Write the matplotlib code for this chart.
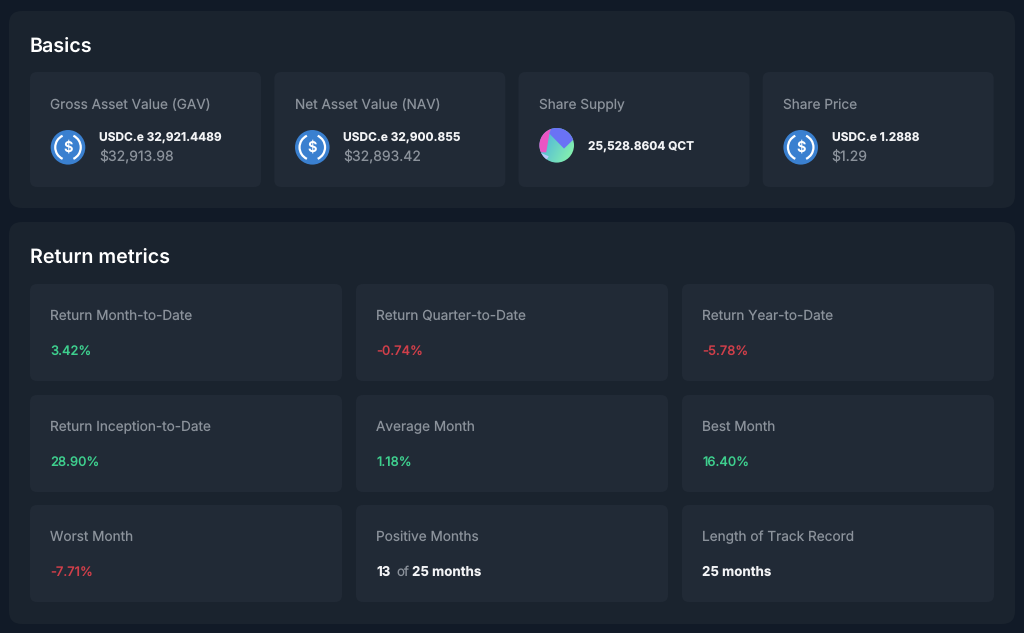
# plot.py - vault metrics dashboard
import numpy as np
import matplotlib
matplotlib.use('Agg')
import matplotlib.pyplot as plt
from matplotlib.patches import FancyBboxPatch, Circle, Arc, Polygon

plt.rcParams['font.family'] = ['Inter', 'DejaVu Sans']
plt.rcParams['text.hinting'] = 'no_hinting'
plt.rcParams['text.hinting_factor'] = 1

# data
basics_labels = ['Gross Asset Value (GAV)', 'Net Asset Value (NAV)', 'Share Supply', 'Share Price']
basics_values = ['USDC.e 32,921.4489', 'USDC.e 32,900.855', '25,528.8604 QCT', 'USDC.e 1.2888']
basics_usd = ['$32,913.98', '$32,893.42', '', '$1.29']

return_labels = ['Return Month-to-Date', 'Return Quarter-to-Date', 'Return Year-to-Date',
                 'Return Inception-to-Date', 'Average Month', 'Best Month',
                 'Worst Month', 'Positive Months', 'Length of Track Record']
return_values = ['3.42%', '-0.74%', '-5.78%', '28.90%', '1.18%', '16.40%', '-7.71%', '', '25 months']

BG = '#111a27'
PANEL = '#1a232e'
CARD = '#212a36'
GREY = '#8b929b'
WHITE = '#f2f3f5'
GREEN = '#3ecf8e'
RED = '#d03f4a'
BLUE = '#3a80d0'

fig = plt.figure(figsize=(10.24, 6.33), dpi=100, facecolor=BG)
ax = fig.add_axes([0, 0, 1, 1])
ax.set_xlim(0, 1024)
ax.set_ylim(633, 0)
ax.axis('off')


def box(x, y, w, h, color, r):
    ax.add_patch(FancyBboxPatch((x + r, y + r), w - 2 * r, h - 2 * r,
                                boxstyle='round,pad=%d,rounding_size=%d' % (r, r),
                                fc=color, ec='none'))


def label(x, y, s, color, size, weight='normal'):
    ax.text(x, y, s, color=color, fontsize=size, fontweight=weight, va='baseline')


def usdc_icon(cx, cy):
    ax.add_patch(Circle((cx, cy), 17.3, fc=BLUE, ec='none'))
    ax.add_patch(Arc((cx, cy), 25.5, 25.5, theta1=115, theta2=245, ec='white', lw=1.6))
    ax.add_patch(Arc((cx, cy), 25.5, 25.5, theta1=-65, theta2=65, ec='white', lw=1.6))
    ax.text(cx, cy + 0.3, '$', color='white', fontsize=10.5, fontweight='semibold', ha='center', va='center')


def token_icon(cx, cy):
    xx, yy = np.meshgrid(np.linspace(0, 1, 40), np.linspace(0, 1, 40))
    t = ((xx * 0.8 + yy * 0.4) / 1.2)[..., None]
    grad = np.array([0.27, 0.66, 0.90]) * (1 - t) + np.array([0.55, 0.98, 0.66]) * t
    im = ax.imshow(grad, extent=(cx - 17.3, cx + 17.3, cy + 17.3, cy - 17.3), zorder=3, aspect='auto')
    clip = Circle((cx, cy), 17.3, transform=ax.transData)
    im.set_clip_path(clip)
    pieces = [([(-18, 7), (-18, -18), (-5, -18), (-7.3, -11.7), (-10.5, 7)], '#ea55c4'),
              ([(-7.3, -11.7), (-5, -18), (18, -18), (18, -7), (7.3, 3.3)], '#6a72f5'),
              ([(-17, 7), (-8, 11), (-10, 14.5), (-17, 14.5)], '#b9c8fb')]
    for pts, col in pieces:
        p = Polygon([(cx + a, cy + b) for a, b in pts], fc=col, ec='none', zorder=4)
        ax.add_patch(p)
        p.set_clip_path(clip)
    ax.set_xlim(0, 1024)
    ax.set_ylim(633, 0)


# panels
box(9, 11, 1006, 197, PANEL, 13)
box(9, 222, 1006, 402, PANEL, 13)
label(29.5, 51.3, 'Basics', 'white', 14.2, 'semibold')
label(29.5, 262.5, 'Return metrics', 'white', 14.2, 'semibold')

# basics cards
basics_x = [30, 274.3, 518.5, 762.7]
for i, x in enumerate(basics_x):
    box(x, 72, 231, 115, CARD, 7)
    label(x + 20.5, 109, basics_labels[i], GREY, 9.8)
    if basics_usd[i]:
        usdc_icon(x + 38, 147.3)
        label(x + 69, 140.7, basics_values[i], WHITE, 8.55, 'bold')
        label(x + 69, 161.7, basics_usd[i], GREY, 10.1)
    else:
        token_icon(x + 38.2, 145.3)
        label(x + 69.5, 149.3, basics_values[i], WHITE, 8.55, 'bold')

# return cards
return_x = [30, 356, 682]
return_y = [284, 395, 505]
for i, name in enumerate(return_labels):
    x = return_x[i % 3]
    y = return_y[i // 3]
    box(x, y, 312, 97, CARD, 7)
    label(x + 20.5, y + 36.2, name, GREY, 9.8)
    val = return_values[i]
    if val.endswith('%'):
        col = RED if val.startswith('-') else GREEN
        label(x + 20.5, y + 70.8, val, col, 9.3, 'medium')
    elif val:
        label(x + 20.5, y + 70.8, val, WHITE, 9.6, 'bold')
    else:
        label(x + 20, y + 70.8, '13', WHITE, 9.6, 'bold')
        label(x + 40, y + 70.8, 'of', GREY, 9.6)
        label(x + 56.5, y + 70.8, '25 months', WHITE, 9.6, 'bold')

fig.savefig('out.png', dpi=100, facecolor=BG)
